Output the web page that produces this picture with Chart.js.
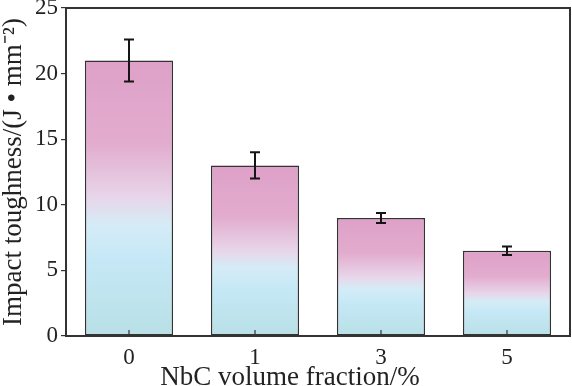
<!DOCTYPE html>
<html>
<head>
<meta charset="utf-8">
<script src="https://cdn.jsdelivr.net/npm/chart.js@4/dist/chart.umd.min.js"></script>
<style>
  html, body { margin: 0; padding: 0; background: #fff; }
  #wrap { width: 572px; height: 386px; }
</style>
</head>
<body>
<div id="wrap"><canvas id="myChart"></canvas></div>
<script>
const fractions = ["0", "1", "3", "5"];
const toughness = [21, 13, 9, 6.5];
const errors = [1.6, 1.0, 0.38, 0.33];
const yTicks = [0, 5, 10, 15, 20, 25];
const xTitle = "NbC volume fraction/%";
const yTitle = "Impact toughness/(J • mm⁻²)";

const serif = "'Liberation Serif', 'Times New Roman', serif";

// pink at the top of each bar fading to light blue / teal at the base
const barFill = (context) => {
  const chart = context.chart;
  const y = chart.scales.y;
  if (!y) return "rgb(222,162,200)";
  const top = y.getPixelForValue(toughness[context.dataIndex]);
  const base = y.getPixelForValue(0);
  if (!Number.isFinite(top) || !Number.isFinite(base) || top === base) return "rgb(222,162,200)";
  const g = chart.ctx.createLinearGradient(0, top, 0, base);
  g.addColorStop(0, "rgb(222,160,200)");
  g.addColorStop(0.3, "rgb(226,172,206)");
  g.addColorStop(0.5, "rgb(232,214,234)");
  g.addColorStop(0.6, "rgb(212,236,247)");
  g.addColorStop(0.72, "rgb(198,232,246)");
  g.addColorStop(1, "rgb(184,224,230)");
  return g;
};

const frameAndErrors = {
  id: "frameAndErrors",
  afterDatasetsDraw(chart) {
    const { ctx, chartArea, scales } = chart;
    ctx.save();
    // error bars
    ctx.strokeStyle = "#151515";
    ctx.lineWidth = 2;
    toughness.forEach((v, i) => {
      const x = scales.x.getPixelForValue(i);
      const yTop = scales.y.getPixelForValue(v + errors[i]);
      const yBot = scales.y.getPixelForValue(v - errors[i]);
      ctx.beginPath();
      ctx.moveTo(x, yTop); ctx.lineTo(x, yBot);
      ctx.moveTo(x - 5, yTop); ctx.lineTo(x + 5, yTop);
      ctx.moveTo(x - 5, yBot); ctx.lineTo(x + 5, yBot);
      ctx.stroke();
    });
    // inward x ticks
    ctx.strokeStyle = "#333";
    ctx.lineWidth = 1.2;
    fractions.forEach((f, i) => {
      const x = scales.x.getPixelForValue(i);
      ctx.beginPath();
      ctx.moveTo(x, chartArea.bottom);
      ctx.lineTo(x, chartArea.bottom - 6);
      ctx.stroke();
    });
    // frame
    ctx.strokeStyle = "#333";
    ctx.lineWidth = 2;
    ctx.strokeRect(chartArea.left, chartArea.top, chartArea.right - chartArea.left, chartArea.bottom - chartArea.top);
    // x axis title, centred on the whole figure like the original
    ctx.fillStyle = "#222";
    ctx.font = "27px " + serif;
    ctx.textAlign = "center";
    ctx.textBaseline = "alphabetic";
    ctx.fillText(xTitle, chart.width / 2 + 4, 385);
    ctx.restore();
  },
};

const ctx = document.getElementById("myChart");
const grafico = new Chart(ctx, {
  type: "bar",
  data: {
    labels: fractions,
    datasets: [
      {
        data: toughness,
        backgroundColor: barFill,
        borderColor: "#333",
        borderWidth: 1.5,
        borderSkipped: false,
        barPercentage: 0.7,
        categoryPercentage: 1,
      },
    ],
  },
  options: {
    responsive: true,
    maintainAspectRatio: false,
    animation: false,
    layout: { padding: { top: 0, right: 2, bottom: 0, left: 0 } },
    plugins: {
      legend: { display: false },
      tooltip: { enabled: false },
    },
    scales: {
      x: {
        afterFit: (s) => { s.height = 50; },
        grid: { display: false, drawTicks: false },
        border: { display: false },
        ticks: { color: "#222", font: { family: serif, size: 23 }, padding: 8 },
      },
      y: {
        min: 0,
        max: 25,
        afterFit: (s) => { s.width = 66; s.paddingTop = 8; s.paddingBottom = 0; },
        afterBuildTicks: (s) => { s.ticks = yTicks.map((v) => ({ value: v })); },
        grid: { drawOnChartArea: false, tickLength: 5, color: "#333", lineWidth: 1.2 },
        border: { display: false },
        ticks: { color: "#222", font: { family: serif, size: 23 }, padding: 3 },
        title: {
          display: true,
          text: yTitle,
          color: "#222",
          font: { family: serif, size: 27 },
          padding: { top: -2, bottom: 0 },
        },
      },
    },
  },
  plugins: [frameAndErrors],
});
</script>
</body>
</html>
